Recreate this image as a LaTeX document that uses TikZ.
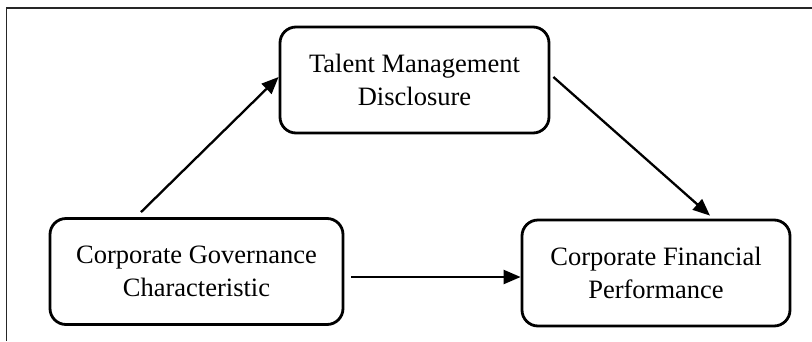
\documentclass[tikz,border=0pt]{standalone}
\usepackage{fontspec}
\setmainfont{Liberation Serif}
\usetikzlibrary{arrows.meta}

\begin{document}
\begin{tikzpicture}[
    x=1pt, y=-1pt,
    factor/.style={draw, line width=2.8pt, rounded corners=16pt, minimum height=106pt,
      align=center, font=\fontsize{26.5}{33}\selectfont},
    arrow/.style={-{Triangle[length=17pt, width=14pt]}, line width=2.3pt},
    ]
    \useasboundingbox (0,0) rectangle (812,341);
    % frame, cut off on the right and at the bottom
    \draw[line width=1.5pt, black!85] (6.5,341) -- (6.5,8) -- (812,8);

    \node[factor, minimum width=269pt] at (414.5,80) (tmd)
    {Talent Management\\Disclosure};
    \node[below of=tmd, node distance=191.5pt, xshift=-218pt, factor, minimum width=293pt]
    (cgc) {Corporate Governance\\Characteristic};
    \node[below of=tmd, node distance=193pt, xshift=241.5pt, factor, minimum width=268pt]
    (cfp) {Corporate Financial\\Performance};

    \draw[arrow] ([xshift=-55.5pt, yshift=5pt]cgc.north) -- ([yshift=3pt]tmd.west);
    \draw[arrow] ([xshift=3pt, yshift=3pt]tmd.east) -- ([xshift=54pt, yshift=3pt]cfp.north);
    \draw[arrow] ([xshift=7pt, yshift=-5.5pt]cgc.east) -- ([yshift=-4pt]cfp.west);
\end{tikzpicture}
\end{document}
